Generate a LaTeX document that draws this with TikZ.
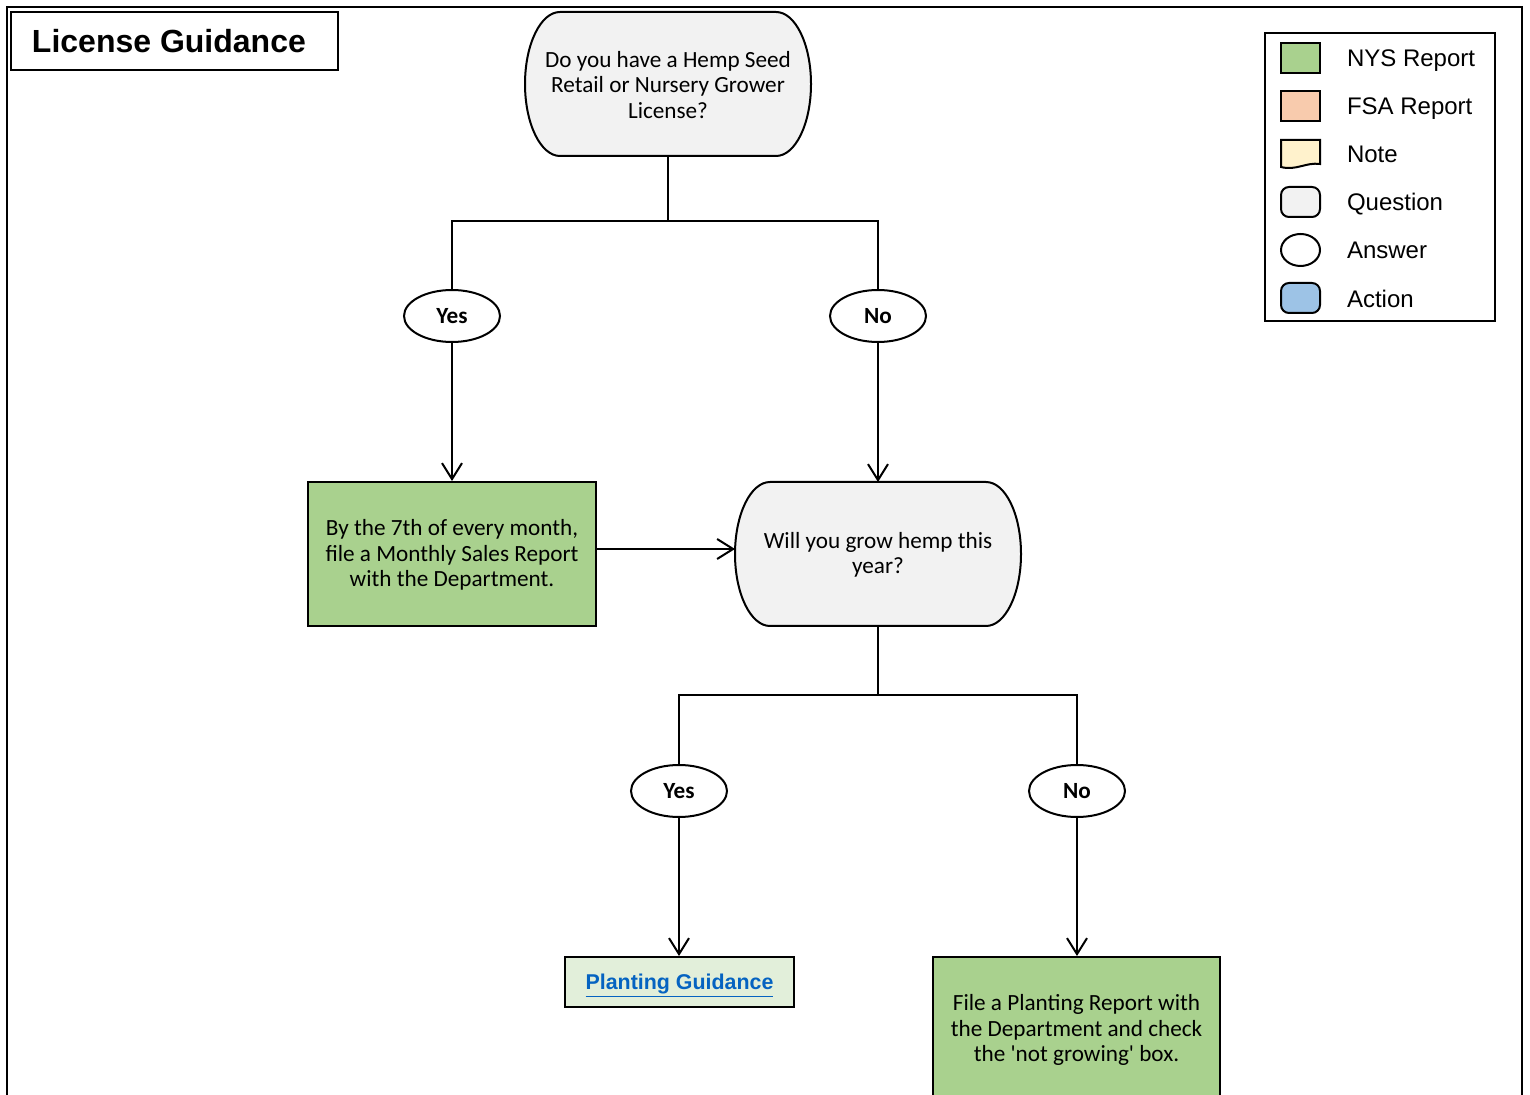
\documentclass[tikz,border=0pt]{standalone}
\usepackage{fontspec}
\setmainfont{Carlito}
\newfontfamily\arialf{Liberation Sans}
\usetikzlibrary{arrows.meta,shapes.geometric}
\definecolor{nysgreen}{HTML}{A9D18E}
\definecolor{fsaorange}{HTML}{F8CBAD}
\definecolor{noteyellow}{HTML}{FFF2CC}
\definecolor{qgray}{HTML}{F2F2F2}
\definecolor{actblue}{HTML}{9DC3E6}
\definecolor{lightgreen}{HTML}{E2EFDA}
\definecolor{linkblue}{HTML}{0563C1}
\newcommand\bodyf{\fontsize{11.6pt}{12.8pt}\selectfont}
\begin{document}
\begin{tikzpicture}[x=0.5pt,y=-0.5pt,line width=1pt,
  qshape/.style={draw,fill=qgray},
  qtext/.style={minimum width=143pt,minimum height=72pt,align=center,font=\bodyf,inner sep=0pt},
  answer/.style={draw,fill=white,ellipse,minimum width=48pt,minimum height=26pt,inner sep=0pt,font=\bodyf\bfseries},
  report/.style={draw,fill=nysgreen,minimum width=144pt,minimum height=72pt},
  rtext/.style={align=center,font=\bodyf,inner sep=0pt},
  arr/.style={-{Straight Barb[length=8pt,width=10pt]}},
  legtext/.style={anchor=base west,font=\arialf\fontsize{12pt}{14pt}\selectfont,inner sep=0pt},
  swatch/.style={draw,minimum width=19.5pt,minimum height=15pt,inner sep=0pt}
]
\useasboundingbox (0,0) rectangle (1530,1095);
\clip (0,0) rectangle (1530,1095);
% outer frame
\draw[line width=1.2pt] (7,1110) -- (7,7) -- (1522,7) -- (1522,1110);
% title
\node[draw,minimum width=163.5pt,minimum height=29pt,inner sep=0pt] (titlebox) at (174.5,41) {};
\node[anchor=west,font=\arialf\bfseries\fontsize{16pt}{18pt}\selectfont,inner sep=0pt] (title) at (31,41) {License Guidance};
% question shapes
\draw[qshape] (560,12) -- (776,12) arc[start angle=90,end angle=-90,x radius=17.5pt,y radius=36pt] -- (560,156) arc[start angle=270,end angle=90,x radius=17.5pt,y radius=36pt] -- cycle;
\node[qtext] (q1) at (668,85) {Do you have a Hemp Seed\\Retail or Nursery Grower\\License?};
\draw[qshape] (770,482) -- (986,482) arc[start angle=90,end angle=-90,x radius=17.5pt,y radius=36pt] -- (770,626) arc[start angle=270,end angle=90,x radius=17.5pt,y radius=36pt] -- cycle;
\node[qtext] (q2) at (878,555) {Will you grow hemp this\\year?};
% answers
\node[answer] (yes1) at (452,316) {Yes};
\node[answer] (no1) at (878,316) {No};
\node[answer] (yes2) at (679,791) {Yes};
\node[answer] (no2) at (1077,791) {No};
% reports
\node[report] (box1) at (452,554) {};
\node[rtext] (box1text) at (452,555) {By the 7th of every month,\\file a Monthly Sales Report\\with the Department.};
\node[report,minimum width=143.5pt] (box3) at (1076.5,1029) {};
\node[rtext] (box3text) at (1076.5,1030) {File a Planting Report with\\the Department and check\\the \textquotesingle not growing\textquotesingle\ box.};
\node[draw,fill=lightgreen,minimum width=114.5pt,minimum height=25pt,inner sep=0pt] (pg) at (679.5,982) {};
\node[anchor=base,inner sep=0pt,font=\arialf\bfseries\fontsize{10.7pt}{12pt}\selectfont,text=linkblue] (pgtext) at (679.5,989) {\underline{Planting Guidance}};
% connectors
\coordinate (s1) at (668,221);
\coordinate (s2) at (878,695);
\draw (q1.south |- 0,156) -- (s1);
\draw (yes1.north) |- (s1) -| (no1.north);
\draw[arr] (yes1.south) -- (box1.north);
\draw[arr] (no1.south) -- (no1.south |- 0,482);
\draw[arr] (box1.east |- 0,549) -- (735,549);
\draw (q2.south |- 0,626) -- (s2);
\draw (yes2.north) |- (s2) -| (no2.north);
\draw[arr] (yes2.south) -- (yes2.south |- pg.north);
\draw[arr] (no2.south) -- (no2.south |- box3.north);
% legend
\node[draw,minimum width=115pt,minimum height=144pt,inner sep=0pt] (legend) at (1380,177) {};
\node[swatch,fill=nysgreen] (lg1) at (1300.5,58) {};
\node[legtext] (lt1) at (1346,66.5) {NYS Report};
\node[swatch,fill=fsaorange] (lg2) at (1300.5,106) {};
\node[legtext] (lt2) at (1346,114.5) {FSA Report};
\draw[fill=noteyellow] (1281,140) -- (1320,140) -- (1320,164) .. controls (1306,162) and (1296,171) .. (1281,167) -- cycle;
\node[legtext] (lt3) at (1346,162.5) {Note};
\node[swatch,fill=qgray,rounded corners=4pt] (lg4) at (1300.5,202) {};
\node[legtext] (lt4) at (1346,210.5) {Question};
\node[draw,ellipse,fill=white,minimum width=19.5pt,minimum height=16pt,inner sep=0pt] (lg5) at (1300.5,250) {};
\node[legtext] (lt5) at (1346,258.5) {Answer};
\node[swatch,fill=actblue,rounded corners=4pt] (lg6) at (1300.5,298) {};
\node[legtext] (lt6) at (1346,307.5) {Action};
\end{tikzpicture}
\end{document}
